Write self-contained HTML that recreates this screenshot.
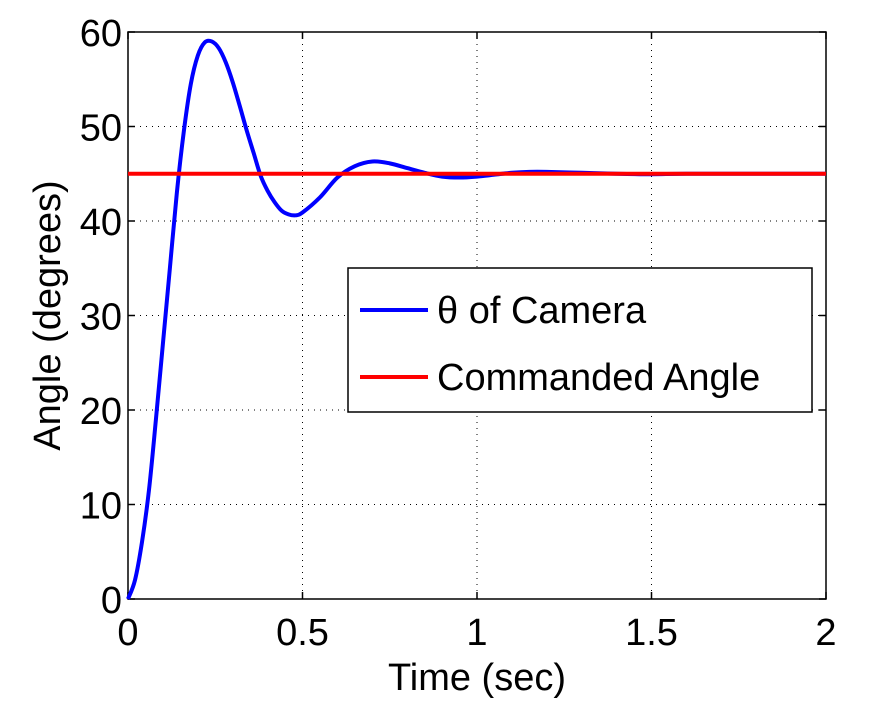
<!DOCTYPE html>
<html><head><meta charset="utf-8"><style>
body{margin:0;background:#fff;}
svg{display:block;font-family:"Liberation Sans",sans-serif;}
</style></head><body>
<svg id="chart" width="889" height="706"></svg>
<script>
const times=[0,0.02,0.04,0.06,0.08,0.1,0.12,0.14,0.16,0.18,0.2,0.22,0.24,0.26,0.28,0.3,0.32,0.34,0.36,0.38,0.4,0.42,0.44,0.46,0.48,0.5,0.55,0.6,0.65,0.7,0.75,0.8,0.85,0.9,0.95,1.0,1.05,1.1,1.15,1.2,1.3,1.4,1.5,1.6,1.8,2.0];
const cameraAngle=[0,2,6,11.5,19,27,35,43,49.5,54.5,57.5,58.9,59,58.3,56.8,54.7,52.2,49.6,47.2,44.8,43.2,42,41.1,40.7,40.6,40.9,42.5,44.6,45.8,46.3,46.1,45.6,45.1,44.7,44.6,44.7,44.9,45.1,45.2,45.2,45.1,45,44.95,45,45,45];
const commandedAngle=[45,45];
const commandedTimes=[0,2];
const xTicks=[0,0.5,1,1.5,2];
const xTickLabels=["0","0.5","1","1.5","2"];
const yTicks=[0,10,20,30,40,50,60];
const yTickLabels=["0","10","20","30","40","50","60"];

const NS="http://www.w3.org/2000/svg";
const svg=document.getElementById('chart');
const L=128,R=826,T=32,B=599;
const FS=38;
const xs=v=>L+(v-0)/(2-0)*(R-L);
const ys=v=>B-(v-0)/(60-0)*(B-T);
function mk(tag,attrs,parent){const e=document.createElementNS(NS,tag);for(const k in attrs)e.setAttribute(k,attrs[k]);(parent||svg).appendChild(e);return e;}

const grid=mk('g',{});


xTicks.forEach((t,i)=>{
  if(i>0&&i<xTicks.length-1){mk('line',{x1:xs(t),x2:xs(t),y1:T,y2:B,stroke:'#000','stroke-width':1,'stroke-dasharray':'1,5'},grid);}
  mk('line',{x1:xs(t),x2:xs(t),y1:B,y2:B-7,stroke:'#000','stroke-width':1.5});
  mk('line',{x1:xs(t),x2:xs(t),y1:T,y2:T+7,stroke:'#000','stroke-width':1.5});
  const lb=mk('text',{x:xs(t),y:B+46,'text-anchor':'middle','font-size':FS});
  lb.textContent=xTickLabels[i];
  
  
});
yTicks.forEach((t,i)=>{
  if(i>0&&i<yTicks.length-1){mk('line',{x1:L,x2:R,y1:ys(t),y2:ys(t),stroke:'#000','stroke-width':1,'stroke-dasharray':'1,5'},grid);}
  mk('line',{x1:L,x2:L+7,y1:ys(t),y2:ys(t),stroke:'#000','stroke-width':1.5});
  mk('line',{x1:R,x2:R-7,y1:ys(t),y2:ys(t),stroke:'#000','stroke-width':1.5});
  const lb=mk('text',{x:L-6,y:ys(t)+14,'text-anchor':'end','font-size':FS});
  lb.textContent=yTickLabels[i];
  
  
});
const frame=mk('rect',{x:L,y:T,width:R-L,height:B-T,fill:'none',stroke:'#000','stroke-width':1.5});



const P=times.map((t,i)=>[xs(t),ys(cameraAngle[i])]);
let d=`M${P[0][0]},${P[0][1]}`;
for(let i=0;i<P.length-1;i++){
  const p0=P[Math.max(0,i-1)],p1=P[i],p2=P[i+1],p3=P[Math.min(P.length-1,i+2)];
  d+=` C${p1[0]+(p2[0]-p0[0])/6},${p1[1]+(p2[1]-p0[1])/6} ${p2[0]-(p3[0]-p1[0])/6},${p2[1]-(p3[1]-p1[1])/6} ${p2[0]},${p2[1]}`;
}
const cam=mk('path',{d:d,fill:'none',stroke:'#0000ff','stroke-width':4,'stroke-linejoin':'round'});


const cmd=mk('polyline',{points:commandedTimes.map((t,i)=>xs(t)+','+ys(commandedAngle[i])).join(' '),fill:'none',stroke:'#ff0000','stroke-width':4});



const xt=mk('text',{x:477,y:690,'text-anchor':'middle','font-size':FS});
xt.textContent='Time (sec)';


const yt=mk('text',{x:0,y:0,'text-anchor':'middle','font-size':FS,transform:`translate(60,${(T+B)/2}) rotate(-90)`});
yt.textContent='Angle (degrees)';



const lg=mk('g',{});


mk('rect',{x:348,y:268,width:464,height:144,fill:'#fff',stroke:'#000','stroke-width':1.5},lg);
const e1=mk('g',{},lg);


mk('line',{x1:360,x2:428,y1:310,y2:310,stroke:'#0000ff','stroke-width':4},e1);
const t1=mk('text',{x:437,y:323,'font-size':FS},e1);t1.textContent='θ of Camera';
const e2=mk('g',{},lg);


mk('line',{x1:360,x2:428,y1:377,y2:377,stroke:'#ff0000','stroke-width':4},e2);
const t2=mk('text',{x:437,y:390,'font-size':FS},e2);t2.textContent='Commanded Angle';
</script>
</body></html>
